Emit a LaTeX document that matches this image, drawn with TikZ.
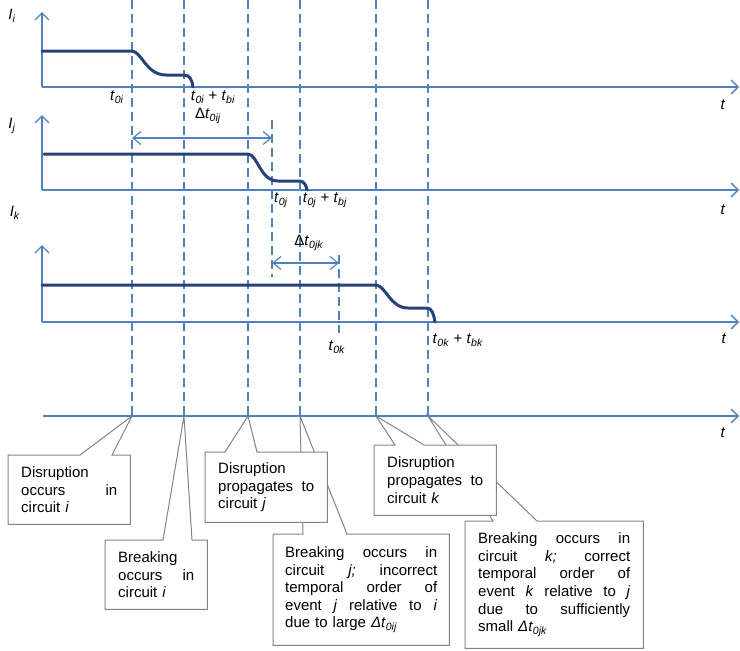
\documentclass[tikz,border=0pt]{standalone}
\usepackage{fontspec}
\setmainfont{Liberation Sans}
\usetikzlibrary{arrows.meta,calc,backgrounds}
\definecolor{axisblue}{RGB}{79,129,189}
\definecolor{curveblue}{RGB}{38,66,118}
\definecolor{boxgray}{RGB}{125,133,145}
\newcommand{\vsub}[2]{\textit{#1}\textsubscript{\textit{#2}}}
\newcommand{\jline}[2]{\leavevmode\hbox to #1{#2}\\}
\hbadness=10000
\begin{document}
\begin{tikzpicture}[x=1pt,y=-1pt,
  axis/.style={draw=axisblue, line width=1.4pt, -{Straight Barb[length=7pt,width=14pt]}},
  guide/.style={draw=axisblue, line width=1.2pt, dash pattern=on 9pt off 5pt},
  signal/.style={draw=curveblue, line width=3pt, line cap=round},
  span/.style={draw=axisblue, line width=1.2pt, {Straight Barb[length=8pt,width=13pt]}-{Straight Barb[length=8pt,width=13pt]}},
  lbl/.style={font=\fontsize{15}{18}\selectfont, inner sep=0pt},
  callout/.style={font=\fontsize{15}{17.6}\selectfont, align=left, inner sep=0pt, anchor=north west},
  outline/.style={draw=boxgray, fill=white, line width=1pt, line join=miter}
]
\useasboundingbox (0,0) rectangle (740,651);

% axes
\coordinate (oi) at (42,87);  \coordinate (ti) at (42,12);  \coordinate (ei) at (739,87);
\coordinate (oj) at (42,190); \coordinate (tj) at (42,115); \coordinate (ej) at (739,190);
\coordinate (ok) at (42,322); \coordinate (tk) at (42,245); \coordinate (ek) at (739,322);
\coordinate (ob) at (43,416); \coordinate (eb) at (739,416);
\draw[axis] (oi) -- (ti); \draw[axis] (oi) -- (ei);
\draw[axis] (oj) -- (tj); \draw[axis] (oj) -- (ej);
\draw[axis] (ok) -- (tk); \draw[axis] (ok) -- (ek);
\draw[axis] (ob) -- (eb);

% event guides
\coordinate (g1) at (132,0); \coordinate (e1) at (132,416);
\coordinate (g2) at (184,0); \coordinate (e2) at (184,416);
\coordinate (g3) at (248,0); \coordinate (e3) at (248,416);
\coordinate (g4) at (300,0); \coordinate (e4) at (300,416);
\coordinate (g5) at (376,0); \coordinate (e5) at (376,416);
\coordinate (g6) at (428,0); \coordinate (e6) at (428,416);
\foreach \n in {1,...,6} {\draw[guide] (g\n) -- (e\n);}
\coordinate (s1t) at (272,120); \coordinate (s1b) at (272,277);
\coordinate (s2t) at (339,255); \coordinate (s2b) at (339,333);
\draw[guide] (s1t) -- (s1b);
\draw[guide] (s2t) -- (s2b);

% spans
\coordinate (a1) at (132,138); \coordinate (b1) at (272,138);
\coordinate (a2) at (272,263); \coordinate (b2) at (339,263);
\draw[span] (a1) -- (b1);
\draw[span] (a2) -- (b2);

% signals
\draw[signal] (42,51) -- (132,51) .. controls (142,52) and (146,75) .. (166,75) -- (184,75) .. controls (190,75) and (192,80) .. (193,87);
\draw[signal] (44,154) -- (248,154) .. controls (258,155) and (260,181) .. (278,181) -- (299,181) .. controls (305,181) and (306,186) .. (307,190);
\draw[signal] (42,285) -- (376,285) .. controls (386,286) and (390,308) .. (408,308) -- (427,308) .. controls (432,308) and (434,315) .. (435,322);

% labels
\node[lbl] (Ii) at (12,16) {\vsub{I}{i}};
\node[lbl] (Ij) at (12,126) {\vsub{I}{j}};
\node[lbl] (Ik) at (15,213) {\vsub{I}{k}};
\node[lbl] (t1) at (723,105) {\textit{t}};
\node[lbl] (t2) at (723,210) {\textit{t}};
\node[lbl] (t3) at (724,339) {\textit{t}};
\node[lbl] (t4) at (723,433) {\textit{t}};
\node[lbl] (l1) at (117,97) {\vsub{t}{0i}};
\node[lbl] (l2) at (213,97) {\vsub{t}{0i} + \vsub{t}{bi}};
\node[lbl] (l3) at (208,116) {Δ\vsub{t}{0ij}};
\node[lbl] (l4) at (281,200) {\vsub{t}{0j}};
\node[lbl] (l5) at (325,200) {\vsub{t}{0j} + \vsub{t}{bj}};
\node[lbl] (l6) at (309,243) {Δ\vsub{t}{0jk}};
\node[lbl] (l7) at (337,347) {\vsub{t}{0k}};
\node[lbl] (l8) at (458,340) {\vsub{t}{0k} + \vsub{t}{bk}};

% callouts
\node[callout, text width=96pt, minimum width=122pt, minimum height=69pt] (c1) at (8,455)
  {Disruption\\\jline{96pt}{occurs\hfill in}circuit \textit{i}};
\node[callout, text width=76pt, minimum width=102pt, minimum height=69pt] (c2) at (105,540)
  {Breaking\\\jline{76pt}{occurs\hfill in}circuit \textit{i}};
\node[callout, text width=96pt, minimum width=122pt, minimum height=70pt] (c3) at (205,452)
  {Disruption\\\jline{96pt}{propagates\hfill to}circuit \textit{j}};
\node[callout, text width=152pt, minimum width=176pt, minimum height=111pt] (c4) at (273,534)
  {\jline{152pt}{Breaking\hfill occurs\hfill in}\jline{152pt}{circuit\hfill \textit{j;}\hfill incorrect}\jline{152pt}{temporal\hfill order\hfill of}\jline{152pt}{event\hfill \textit{j}\hfill relative\hfill to\hfill \textit{i}}due to large \textit{Δ}\vsub{t}{0ij}};
\node[callout, text width=96pt, minimum width=122pt, minimum height=70pt] (c5) at (374,445)
  {Disruption\\\jline{96pt}{propagates\hfill to}circuit \textit{k}};
\node[callout, text width=152pt, minimum width=178pt, minimum height=127pt] (c6) at (465,521)
  {\jline{152pt}{Breaking\hfill occurs\hfill in}\jline{152pt}{circuit\hfill \textit{k;}\hfill correct}\jline{152pt}{temporal\hfill order\hfill of}\jline{152pt}{event\hfill \textit{k}\hfill relative\hfill to\hfill \textit{j}}\jline{152pt}{due\hfill to\hfill sufficiently}small \textit{Δ}\vsub{t}{0jk}};

\begin{scope}[on background layer]
\draw[outline] (c4.north west) -- ($(c4.north west)+(30,0)$) -- (e4) -- ($(c4.north west)+(74,0)$) -- (c4.north east) -- (c4.south east) -- (c4.south west) -- cycle;
\draw[outline] (c6.north west) -- ($(c6.north west)+(28,0)$) -- (e6) -- ($(c6.north west)+(72,0)$) -- (c6.north east) -- (c6.south east) -- (c6.south west) -- cycle;
\draw[outline] (c1.north west) -- ($(c1.north west)+(72,0)$) -- (e1) -- ($(c1.north west)+(104,0)$) -- (c1.north east) -- (c1.south east) -- (c1.south west) -- cycle;
\draw[outline] (c2.north west) -- ($(c2.north west)+(58,0)$) -- (e2) -- ($(c2.north west)+(87,0)$) -- (c2.north east) -- (c2.south east) -- (c2.south west) -- cycle;
\draw[outline] (c3.north west) -- ($(c3.north west)+(20,0)$) -- (e3) -- ($(c3.north west)+(52,0)$) -- (c3.north east) -- (c3.south east) -- (c3.south west) -- cycle;
\draw[outline] (c5.north west) -- ($(c5.north west)+(21,0)$) -- (e5) -- ($(c5.north west)+(50,0)$) -- (c5.north east) -- (c5.south east) -- (c5.south west) -- cycle;
\end{scope}
\end{tikzpicture}
\end{document}
